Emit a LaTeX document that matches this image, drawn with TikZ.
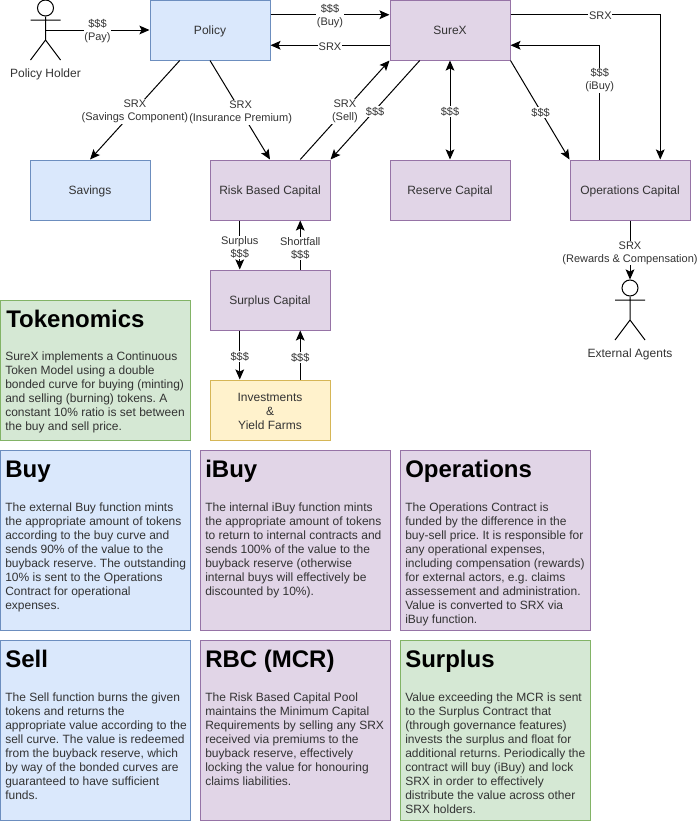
\documentclass[tikz,border=0pt]{standalone}
\usepackage{fontspec}
\setmainfont{Liberation Sans}
\usetikzlibrary{arrows.meta,calc}
\definecolor{bluef}{HTML}{DAE8FC}\definecolor{blued}{HTML}{6C8EBF}
\definecolor{purf}{HTML}{E1D5E7}\definecolor{purd}{HTML}{9673A6}
\definecolor{grnf}{HTML}{D5E8D4}\definecolor{grnd}{HTML}{82B366}
\definecolor{yelf}{HTML}{FFF2CC}\definecolor{yeld}{HTML}{D6B656}
\definecolor{txt}{HTML}{333333}
\frenchspacing
\tikzset{
 x=0.75pt,y=-0.75pt,
 base/.style={draw,line width=0.75pt,minimum width=90pt,minimum height=45pt,inner sep=0pt,align=center,text=txt,font=\fontsize{9}{10.5}\selectfont\frenchspacing},
 oneline/.style={text height=8.4pt,text depth=1.6pt},
 bluebox/.style={base,oneline,fill=bluef,draw=blued},
 purbox/.style={base,oneline,fill=purf,draw=purd},
 yelbox/.style={base,fill=yelf,draw=yeld},
 panel/.style={draw,line width=0.75pt,minimum width=142.5pt,anchor=north west,inner sep=0pt},
 head/.style={anchor=base west,inner sep=0pt,font=\fontsize{18}{20}\bfseries\selectfont,text=black},
 body/.style={anchor=north west,inner sep=0pt,align=left,text=txt,font=\fontsize{9}{10.5}\selectfont\frenchspacing},
 conn/.style={line width=0.75pt,-{Stealth[length=7.5pt,width=6.5pt,inset=1.5pt]}},
 bothconn/.style={line width=0.75pt,{Stealth[length=7.5pt,width=6.5pt,inset=1.5pt]}-{Stealth[length=7.5pt,width=6.5pt,inset=1.5pt]}},
 lab/.style={fill=white,inner sep=0.6pt,align=center,text=txt,yshift=-1.0pt,font=\fontsize{8.25}{9.9}\selectfont},
 actor/.style={line width=0.75pt},
 actlab/.style={inner sep=0pt,text=txt,font=\fontsize{9}{10.5}\selectfont},
}
\begin{document}
\begin{tikzpicture}
\useasboundingbox (0,0) rectangle (699,821);
% boxes
\node[bluebox] (policy) at (210,30) {Policy};
\node[purbox] (surex) at (450,30) {SureX};
\node[bluebox] (savings) at (90,190) {Savings};
\node[purbox] (rbc) at (270,190) {Risk Based Capital};
\node[purbox] (reserve) at (450,190) {Reserve Capital};
\node[purbox] (ops) at (630,190) {Operations Capital};
\node[purbox] (surplus) at (270,300) {Surplus Capital};
\node[yelbox] (invest) at (270,410) {\rule{0pt}{8.5pt}Investments\\\&\\Yield Farms};
% connection points on the boxes
\coordinate (policyEa) at ($(policy.north east)!.25!(policy.south east)$);
\coordinate (policyEb) at ($(policy.north east)!.75!(policy.south east)$);
\coordinate (policySa) at ($(policy.south west)!.25!(policy.south east)$);
\coordinate (surexWa) at ($(surex.north west)!.25!(surex.south west)$);
\coordinate (surexWb) at ($(surex.north west)!.75!(surex.south west)$);
\coordinate (surexEa) at ($(surex.north east)!.25!(surex.south east)$);
\coordinate (surexEb) at ($(surex.north east)!.75!(surex.south east)$);
\coordinate (surexSa) at ($(surex.south west)!.25!(surex.south east)$);
\coordinate (rbcNb) at ($(rbc.north west)!.75!(rbc.north east)$);
\coordinate (rbcSa) at ($(rbc.south west)!.25!(rbc.south east)$);
\coordinate (rbcSb) at ($(rbc.south west)!.75!(rbc.south east)$);
\coordinate (opsNa) at ($(ops.north west)!.25!(ops.north east)$);
\coordinate (opsNb) at ($(ops.north west)!.75!(ops.north east)$);
\coordinate (surNa) at ($(surplus.north west)!.25!(surplus.north east)$);
\coordinate (surNb) at ($(surplus.north west)!.75!(surplus.north east)$);
\coordinate (surSa) at ($(surplus.south west)!.25!(surplus.south east)$);
\coordinate (surSb) at ($(surplus.south west)!.75!(surplus.south east)$);
\coordinate (invNa) at ($(invest.north west)!.25!(invest.north east)$);
\coordinate (invNb) at ($(invest.north west)!.75!(invest.north east)$);
% actors
\node[draw,circle,actor,minimum size=12pt,inner sep=0pt] (holderhead) at (45.5,8) {};
\coordinate (holderhip) at (45.5,40);
\draw[actor] (holderhead.south) -- (holderhip) -- (30.5,60) (holderhip) -- (60.5,60) (30.5,20) -- (60.5,20);
\node[actlab] (holderlab) at (45.5,74.5) {Policy Holder};
\coordinate (holderout) at (45.5,30);
\node[draw,circle,actor,minimum size=12pt,inner sep=0pt] (agenthead) at (630,288) {};
\coordinate (agenthip) at (630,320);
\draw[actor] (agenthead.south) -- (agenthip) -- (615,340) (agenthip) -- (645,340) (615,300) -- (645,300);
\node[actlab] (agentlab) at (630,354) {External Agents};
% connectors
\draw[conn] (holderout) -- node[lab,pos=.5] (l1) {\$\$\$\\(Pay)} (policy.west);
\draw[conn] (policyEa) -- node[lab] (l2) {\$\$\$\\(Buy)} (surexWa);
\draw[conn] (surexWb) -- node[lab] (l3) {SRX} (policyEb);
\draw[conn] (policySa) -- node[lab] (l4) {SRX\\(Savings Component)} (savings.north);
\draw[conn] (policy.south) -- node[lab,pos=.51] (l5) {SRX\\(Insurance Premium)} (rbc.north);
\draw[conn] (rbcNb) -- node[lab,pos=.5] (l6) {SRX\\(Sell)} (surex.south west);
\draw[conn] (surexSa) -- node[lab,pos=.5] (l7) {\$\$\$} (rbc.north east);
\draw[bothconn] (surex.south) -- node[lab] (l8) {\$\$\$} (reserve.north);
\draw[conn] (surex.south east) -- node[lab,pos=.51] (l9) {\$\$\$} (ops.north west);
\draw[conn] (surexEa) -| node[lab,pos=.3] (l10) {SRX} (opsNb);
\draw[conn] (opsNa) |- node[lab,pos=.352] (l11) {\$\$\$\\(iBuy)} (surexEb);
\draw[conn] (rbcSa) -- node[lab,pos=.52] (l12) {Surplus\\\$\$\$} (surNa);
\draw[conn] (surNb) -- node[lab,pos=.46] (l13) {Shortfall\\\$\$\$} (rbcSb);
\draw[conn] (surSa) -- node[lab] (l14) {\$\$\$} (invNa);
\draw[conn] (invNb) -- node[lab,pos=.48] (l15) {\$\$\$} (surSb);
\draw[conn] (ops.south) -- node[lab,pos=.53] (l16) {SRX\\(Rewards \& Compensation)} (agenthead.north);
% panels
\node[panel,fill=grnf,draw=grnd,minimum height=105pt] (ptok) at (0,300) {};
\node[head] (htok) at (6,327) {Tokenomics};
\node[body] (btok) at (5,352) {SureX implements a Continuous\\Token Model using a double\\bonded curve for buying (minting)\\and selling (burning) tokens. A\\constant 10\% ratio is set between\\the buy and sell price.};
\node[panel,fill=bluef,draw=blued,minimum height=135pt] (pbuy) at (0,450) {};
\node[head] (hbuy) at (5,477) {Buy};
\node[body] (bbuy) at (5,503) {The external Buy function mints\\the appropriate amount of tokens\\according to the buy curve and\\sends 90\% of the value to the\\buyback reserve. The outstanding\\10\% is sent to the Operations\\Contract for operational\\expenses.};
\node[panel,fill=purf,draw=purd,minimum height=135pt] (pibuy) at (200,450) {};
\node[head] (hibuy) at (205,477) {iBuy};
\node[body] (bibuy) at (205,503) {The internal iBuy function mints\\the appropriate amount of tokens\\to return to internal contracts and\\sends 100\% of the value to the\\buyback reserve (otherwise\\internal buys will effectively be\\discounted by 10\%).};
\node[panel,fill=purf,draw=purd,minimum height=135pt] (pops) at (400,450) {};
\node[head] (hops) at (405,477) {Operations};
\node[body] (bops) at (405,503) {The Operations Contract is\\funded by the difference in the\\buy-sell price. It is responsible for\\any operational expenses,\\including compensation (rewards)\\for external actors, e.g. claims\\assessement and administration.\\Value is converted to SRX via\\iBuy function.};
\node[panel,fill=bluef,draw=blued,minimum height=135pt] (psell) at (0,640) {};
\node[head] (hsell) at (5,667) {Sell};
\node[body] (bsell) at (5,693) {The Sell function burns the given\\tokens and returns the\\appropriate value according to the\\sell curve. The value is redeemed\\from the buyback reserve, which\\by way of the bonded curves are\\guaranteed to have sufficient\\funds.};
\node[panel,fill=purf,draw=purd,minimum height=135pt] (pmcr) at (200,640) {};
\node[head] (hmcr) at (205,667) {RBC (MCR)};
\node[body] (bmcr) at (205,693) {The Risk Based Capital Pool\\maintains the Minimum Capital\\Requirements by selling any SRX\\received via premiums to the\\buyback reserve, effectively\\locking the value for honouring\\claims liabilities.};
\node[panel,fill=grnf,draw=grnd,minimum height=135pt] (psur) at (400,640) {};
\node[head] (hsur) at (405,667) {Surplus};
\node[body] (bsur) at (405,693) {Value exceeding the MCR is sent\\to the Surplus Contract that\\(through governance features)\\invests the surplus and float for\\additional returns. Periodically the\\contract will buy (iBuy) and lock\\SRX in order to effectively\\distribute the value across other\\SRX holders.};
\end{tikzpicture}
\end{document}
